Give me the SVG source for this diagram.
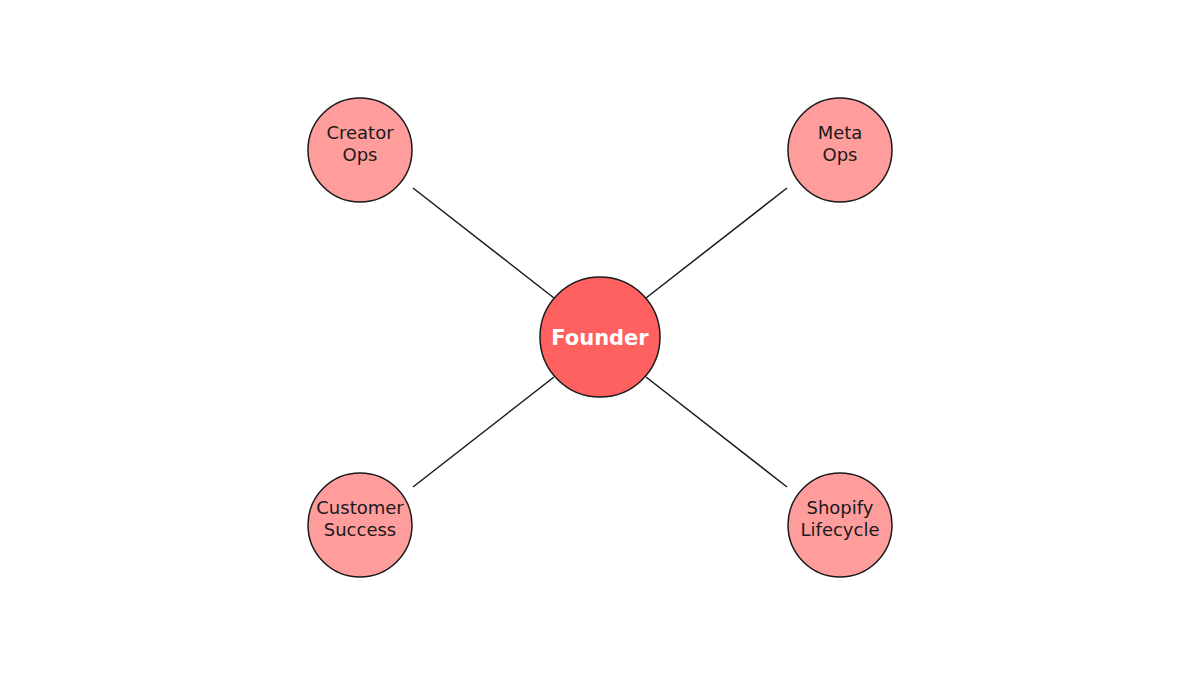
<svg xmlns="http://www.w3.org/2000/svg" width="1200" height="675" viewBox="0 0 1200 675">
<style>
.n{fill:#ff9d9d;stroke:#1a1a1a;stroke-width:1.5}
.c{fill:#ff6161;stroke:#1a1a1a;stroke-width:1.5}
.t{font-family:"DejaVu Sans",sans-serif;font-size:18px;fill:#1a1a1a;text-anchor:middle}
.ct{font-family:"DejaVu Sans",sans-serif;font-size:21px;font-weight:bold;fill:#fff;text-anchor:middle}
line{stroke:#1a1a1a;stroke-width:1.5}
</style>
<rect width="1200" height="675" fill="#fff"/>
<g id="connectors">
<line x1="413" y1="188" x2="554" y2="298"/>
<line x1="787" y1="188" x2="646" y2="298"/>
<line x1="413" y1="487" x2="554" y2="377"/>
<line x1="787" y1="487" x2="646" y2="377"/>
</g>
<g id="founder"><circle class="c" cx="600" cy="337" r="60"/><text class="ct" x="600" y="345">Founder</text></g>
<g id="creator"><circle class="n" cx="360" cy="150" r="52"/><text class="t" x="360" y="139">Creator</text><text class="t" x="360" y="161">Ops</text></g>
<g id="meta"><circle class="n" cx="840" cy="150" r="52"/><text class="t" x="840" y="139">Meta</text><text class="t" x="840" y="161">Ops</text></g>
<g id="customer"><circle class="n" cx="360" cy="525" r="52"/><text class="t" x="360" y="514">Customer</text><text class="t" x="360" y="536">Success</text></g>
<g id="shopify"><circle class="n" cx="840" cy="525" r="52"/><text class="t" x="840" y="514">Shopify</text><text class="t" x="840" y="536">Lifecycle</text></g>
</svg>
